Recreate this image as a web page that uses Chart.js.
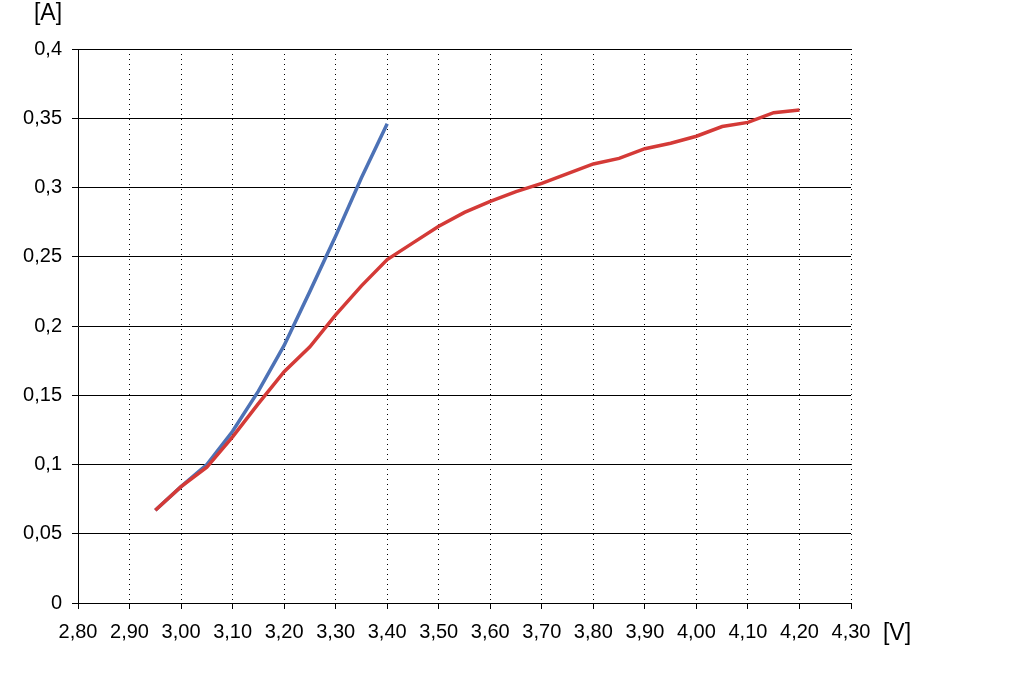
<!DOCTYPE html>
<html>
<head>
<meta charset="utf-8">
<script src="https://cdn.jsdelivr.net/npm/chart.js@4/dist/chart.umd.min.js"></script>
<style>
  html, body { margin: 0; padding: 0; background: #fff; }
  canvas { display: block; }
</style>
</head>
<body>
<canvas id="ivChart" width="1024" height="676"></canvas>
<script>
// voltage steps [V]
const voltsRed = [2.95, 3.00, 3.05, 3.10, 3.15, 3.20, 3.25, 3.30, 3.35, 3.40, 3.45, 3.50, 3.55,
  3.60, 3.65, 3.70, 3.75, 3.80, 3.85, 3.90, 3.95, 4.00, 4.05, 4.10, 4.15, 4.20];
const ampsRed = [0.067, 0.084, 0.098, 0.12, 0.144, 0.167, 0.185, 0.208, 0.229, 0.248, 0.26, 0.272, 0.282,
  0.29, 0.297, 0.303, 0.31, 0.317, 0.321, 0.328, 0.332, 0.337, 0.344, 0.347, 0.354, 0.356];

const voltsBlue = [2.95, 3.00, 3.05, 3.10, 3.15, 3.20, 3.25, 3.30, 3.35, 3.40];
const ampsBlue = [0.067, 0.084, 0.1, 0.124, 0.153, 0.186, 0.225, 0.265, 0.307, 0.346];

const xTicks = [2.8, 2.9, 3.0, 3.1, 3.2, 3.3, 3.4, 3.5, 3.6, 3.7, 3.8, 3.9, 4.0, 4.1, 4.2, 4.3];
const yTicks = [0, 0.05, 0.1, 0.15, 0.2, 0.25, 0.3, 0.35, 0.4];

const toPoints = (xs, ys) => xs.map((x, i) => ({ x: x, y: ys[i] }));

// unit labels [A] and [V]
const unitLabels = {
  id: 'unitLabels',
  afterDraw(chart) {
    const ctx = chart.ctx;
    ctx.save();
    ctx.fillStyle = '#000';
    ctx.font = '23px "Liberation Sans", Arial, sans-serif';
    ctx.textAlign = 'center';
    ctx.textBaseline = 'middle';
    ctx.fillText('[A]', 48, 14);
    ctx.fillText('[V]', 897, 634);
    ctx.restore();
  }
};

const ctx = document.getElementById('ivChart').getContext('2d');
new Chart(ctx, {
  type: 'line',
  data: {
    datasets: [{
      data: toPoints(voltsRed, ampsRed),
      borderColor: '#d43a37',
      borderWidth: 3.5,
      pointRadius: 0,
      tension: 0,
      fill: false
    }, {
      data: toPoints(voltsBlue, ampsBlue),
      borderColor: '#4d72b6',
      borderWidth: 3.5,
      pointRadius: 0,
      tension: 0,
      fill: false
    }]
  },
  options: {
    responsive: false,
    animation: false,
    layout: { padding: { left: 0, top: 49, right: 173, bottom: 0 } },
    plugins: { legend: { display: false }, tooltip: { enabled: false } },
    scales: {
      x: {
        type: 'linear',
        min: 2.8,
        max: 4.3,
        afterBuildTicks: (s) => { s.ticks = xTicks.map(v => ({ value: v })); },
        afterFit: (s) => { s.height = 73; },
        ticks: {
          color: '#000',
          font: { family: '"Liberation Sans", Arial, sans-serif', size: 20 },
          padding: 11,
          maxRotation: 0,
          autoSkip: false,
          callback: (v) => v.toFixed(2).replace('.', ',')
        },
        grid: { color: '#000', lineWidth: 1, tickLength: 6, tickColor: '#000' },
        border: { color: '#000', width: 1, dash: [1, 4] }
      },
      y: {
        min: 0,
        max: 0.4,
        afterBuildTicks: (s) => { s.ticks = yTicks.map(v => ({ value: v })); },
        afterFit: (s) => { s.width = 78; },
        ticks: {
          color: '#000',
          font: { family: '"Liberation Sans", Arial, sans-serif', size: 20 },
          padding: 10,
          autoSkip: false,
          callback: (v) => String(parseFloat(v.toFixed(2))).replace('.', ',')
        },
        grid: { color: '#000', lineWidth: 1, tickLength: 6, tickColor: '#000' },
        border: { color: '#000', width: 1 }
      }
    }
  },
  plugins: [unitLabels]
});
</script>
</body>
</html>
